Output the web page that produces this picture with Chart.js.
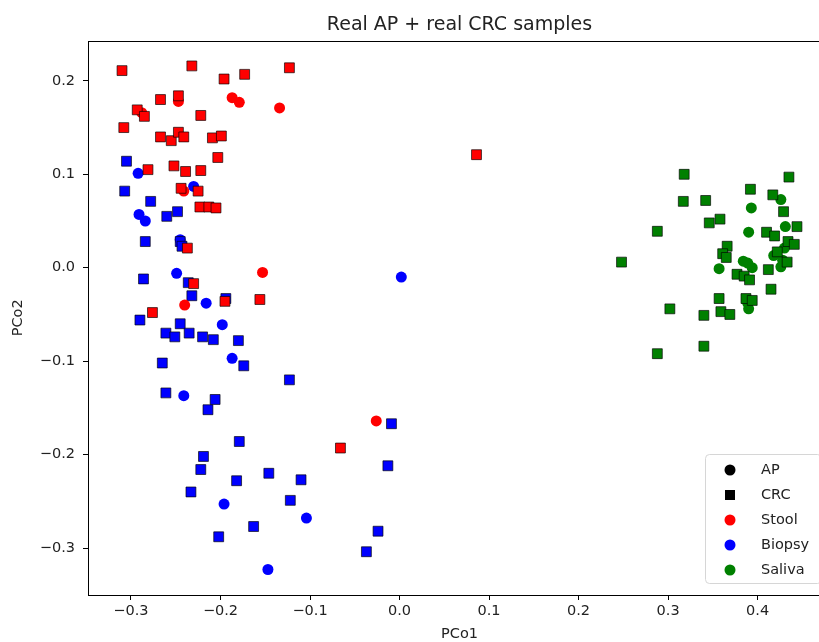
<!DOCTYPE html>
<html>
<head>
<meta charset="utf-8">
<script src="https://cdn.jsdelivr.net/npm/chart.js@4.4.0/dist/chart.umd.min.js"></script>
<style>
  html, body { margin: 0; padding: 0; background: #fff; overflow: hidden; }
  #wrap { width: 819px; height: 642px; overflow: hidden; }
  canvas { display: block; }
</style>
</head>
<body>
<div id="wrap"><canvas id="pcoa" width="850" height="650"></canvas></div>
<script>
// PCoA coordinates per sample type (stool / biopsy / saliva) and group (AP / CRC)
var stoolCrcX = [-0.310,-0.232,-0.196,-0.173,-0.123,-0.267,-0.247,-0.293,-0.285,-0.222,-0.308,-0.267,-0.255,-0.247,-0.241,-0.209,-0.199,-0.203,-0.281,-0.252,-0.239,-0.222,-0.244,-0.225,-0.223,-0.213,-0.205,-0.237,-0.230,-0.195,-0.156,-0.276,0.086,-0.066];
var stoolCrcY = [0.211,0.216,0.202,0.207,0.214,0.180,0.184,0.169,0.162,0.163,0.150,0.140,0.136,0.145,0.140,0.139,0.141,0.118,0.105,0.109,0.103,0.104,0.085,0.082,0.065,0.065,0.064,0.021,-0.017,-0.036,-0.034,-0.048,0.121,-0.193];
var stoolApX = [-0.187,-0.179,-0.134,-0.247,-0.288,-0.241,-0.153,-0.240,-0.026];
var stoolApY = [0.182,0.177,0.171,0.178,0.166,0.082,-0.005,-0.040,-0.164];

var biopsyCrcX = [-0.305,-0.307,-0.278,-0.260,-0.248,-0.284,-0.245,-0.243,-0.286,-0.236,-0.232,-0.194,-0.290,-0.245,-0.261,-0.251,-0.235,-0.220,-0.208,-0.180,-0.265,-0.174,-0.123,-0.261,-0.206,-0.214,-0.179,-0.219,-0.222,-0.233,-0.182,-0.146,-0.110,-0.122,-0.163,-0.202,-0.009,-0.013,-0.024,-0.037];
var biopsyCrcY = [0.114,0.082,0.071,0.055,0.060,0.028,0.028,0.023,-0.012,-0.016,-0.030,-0.033,-0.056,-0.060,-0.070,-0.074,-0.070,-0.074,-0.077,-0.078,-0.102,-0.105,-0.120,-0.134,-0.141,-0.152,-0.186,-0.202,-0.216,-0.240,-0.228,-0.220,-0.227,-0.249,-0.277,-0.288,-0.167,-0.212,-0.282,-0.304];
var biopsyApX = [-0.292,-0.230,-0.291,-0.284,-0.245,-0.249,-0.216,-0.198,-0.187,-0.241,-0.196,-0.104,-0.147,0.002];
var biopsyApY = [0.101,0.087,0.057,0.050,0.030,-0.006,-0.038,-0.061,-0.097,-0.137,-0.253,-0.268,-0.323,-0.010];

var salivaCrcX = [0.318,0.435,0.392,0.317,0.342,0.417,0.429,0.346,0.358,0.288,0.444,0.410,0.419,0.434,0.441,0.366,0.361,0.365,0.433,0.248,0.412,0.377,0.385,0.391,0.415,0.357,0.387,0.394,0.302,0.340,0.359,0.369,0.340,0.288,0.422];
var salivaCrcY = [0.100,0.097,0.084,0.071,0.072,0.078,0.060,0.048,0.052,0.039,0.044,0.038,0.034,0.028,0.025,0.023,0.015,0.011,0.006,0.006,-0.002,-0.007,-0.009,-0.013,-0.023,-0.033,-0.033,-0.035,-0.044,-0.051,-0.047,-0.050,-0.084,-0.092,0.017];
var salivaApX = [0.426,0.393,0.431,0.390,0.418,0.428,0.426,0.384,0.389,0.394,0.357,0.390,0.389,0.430];
var salivaApY = [0.073,0.064,0.044,0.038,0.013,0.008,0.001,0.007,0.005,0.000,-0.001,-0.044,-0.038,0.021];

var xTicks = [-0.3,-0.2,-0.1,0.0,0.1,0.2,0.3,0.4];
var yTicks = [-0.3,-0.2,-0.1,0.0,0.1,0.2];

var legendLabels = ['AP','CRC','Stool','Biopsy','Saliva'];
var legendColors = ['#000000','#000000','#ff0000','#0000ff','#008000'];
var legendShapes = ['circle','rect','circle','circle','circle'];

var FONT = "'DejaVu Sans', sans-serif";
var TEXT = '#222222';

function pts(xs, ys){
	var out = [];
	for(var i=0; i<xs.length; i++)
		out.push({x: xs[i], y: ys[i]});
	return out;
}

function squares(label, xs, ys, color){
	return {
		label: label, data: pts(xs, ys),
		pointStyle: 'rect', pointRadius: 7, pointHoverRadius: 7,
		backgroundColor: color, borderColor: 'rgba(0,0,0,0.65)', borderWidth: 1
	};
}

function circles(label, xs, ys, color){
	return {
		label: label, data: pts(xs, ys),
		pointStyle: 'circle', pointRadius: 5.5, pointHoverRadius: 5.5,
		backgroundColor: color, borderColor: color, borderWidth: 0
	};
}

function tickText(v){
	return v.toFixed(1).replace('-', '\u2212');
}

// frame around the plot area plus the boxed legend in the lower right corner
var framePlugin = {
	id: 'frame',
	afterDraw: function(chart){
		var ctx = chart.ctx, a = chart.chartArea;
		ctx.save();
		ctx.strokeStyle = '#000';
		ctx.lineWidth = 1;
		ctx.strokeRect(Math.round(a.left)+0.5, Math.round(a.top)+0.5, Math.round(a.right-a.left), Math.round(a.bottom-a.top));

		var bx = 705.5, by = 454.5, bw = 116, bh = 129, r = 4;
		ctx.beginPath();
		ctx.moveTo(bx+r, by);
		ctx.arcTo(bx+bw, by, bx+bw, by+bh, r);
		ctx.arcTo(bx+bw, by+bh, bx, by+bh, r);
		ctx.arcTo(bx, by+bh, bx, by, r);
		ctx.arcTo(bx, by, bx+bw, by, r);
		ctx.closePath();
		ctx.fillStyle = 'rgba(255,255,255,0.8)';
		ctx.fill();
		ctx.strokeStyle = '#d6d6d6';
		ctx.stroke();

		ctx.font = '14.5px ' + FONT;
		ctx.textBaseline = 'middle';
		ctx.textAlign = 'left';
		for(var i=0; i<legendLabels.length; i++){
			var y = 470 + i*25;
			ctx.fillStyle = legendColors[i];
			if(legendShapes[i] == 'rect')
				ctx.fillRect(725, y-5, 10, 10);
			else{
				ctx.beginPath();
				ctx.arc(730, y, 5.5, 0, Math.PI*2);
				ctx.fill();
			}
			ctx.fillStyle = TEXT;
			ctx.fillText(legendLabels[i], 761, y);
		}
		ctx.restore();
	}
};

var ctx = document.getElementById('pcoa').getContext('2d');
var chart = new Chart(ctx, {
	type: 'scatter',
	data: {
		datasets: [
			squares('Stool CRC', stoolCrcX, stoolCrcY, '#ff0000'),
			circles('Stool AP', stoolApX, stoolApY, '#ff0000'),
			squares('Biopsy CRC', biopsyCrcX, biopsyCrcY, '#0000ff'),
			circles('Biopsy AP', biopsyApX, biopsyApY, '#0000ff'),
			squares('Saliva CRC', salivaCrcX, salivaCrcY, '#008000'),
			circles('Saliva AP', salivaApX, salivaApY, '#008000')
		]
	},
	options: {
		responsive: false,
		animation: false,
		layout: { padding: { left: 0, right: 19, top: 0, bottom: 0 } },
		plugins: {
			legend: { display: false },
			tooltip: { enabled: false },
			title: {
				display: true,
				fullSize: false,
				text: 'Real AP + real CRC samples',
				color: TEXT,
				font: { family: FONT, size: 19, weight: 'normal' },
				padding: { top: 14, bottom: 3.9 }
			}
		},
		scales: {
			x: {
				type: 'linear',
				min: -0.348, max: 0.482,
				afterFit: function(scale){ scale.height = 55; },
				afterBuildTicks: function(scale){
					scale.ticks = xTicks.map(function(v){ return {value: v}; });
				},
				ticks: {
					color: TEXT, padding: 3,
					font: { family: FONT, size: 14.5 },
					callback: function(v){ return tickText(v); }
				},
				grid: { display: true, drawOnChartArea: false, drawTicks: true, tickLength: 5, color: '#000' },
				border: { display: false },
				title: {
					display: true, text: 'PCo1', color: TEXT,
					font: { family: FONT, size: 14.5 },
					padding: { top: 0, bottom: 7 }
				}
			},
			y: {
				type: 'linear',
				min: -0.3503, max: 0.243,
				afterFit: function(scale){ scale.width = 88; },
				afterBuildTicks: function(scale){
					scale.ticks = yTicks.map(function(v){ return {value: v}; });
				},
				ticks: {
					color: TEXT, padding: 8,
					font: { family: FONT, size: 14.5 },
					callback: function(v){ return tickText(v); }
				},
				grid: { display: true, drawOnChartArea: false, drawTicks: true, tickLength: 5, color: '#000' },
				border: { display: false },
				title: {
					display: true, text: 'PCo2', color: TEXT,
					font: { family: FONT, size: 14.5 },
					padding: { top: 10, bottom: 0 }
				}
			}
		}
	},
	plugins: [framePlugin]
});
</script>
</body>
</html>
